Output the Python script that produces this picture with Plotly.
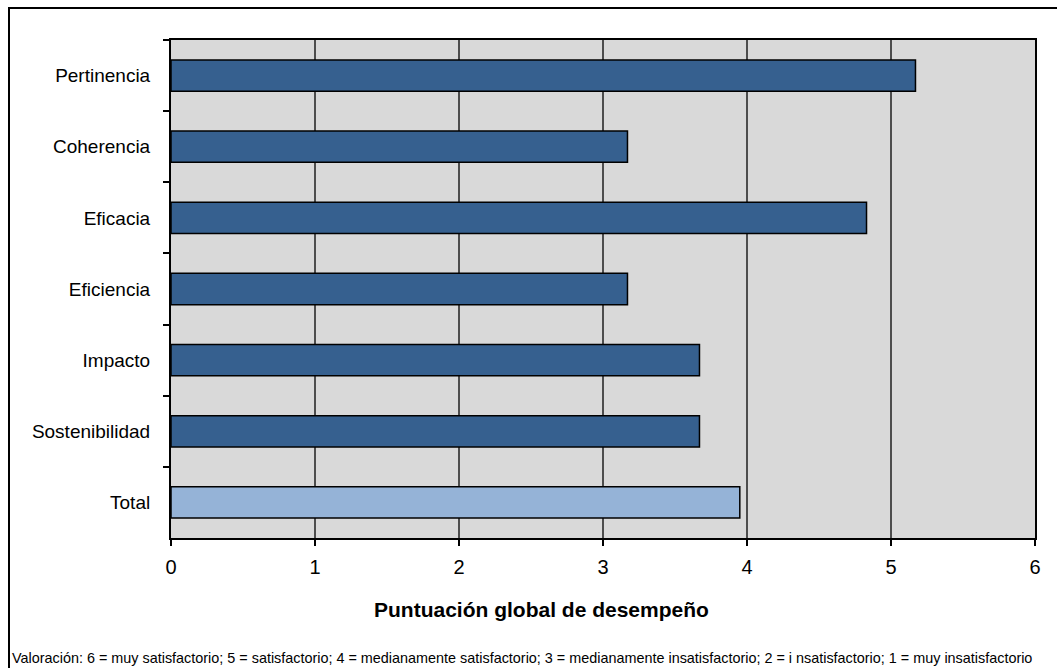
import plotly.graph_objects as go

categories = ["Pertinencia", "Coherencia", "Eficacia", "Eficiencia", "Impacto", "Sostenibilidad", "Total"]
values = [5.17, 3.17, 4.83, 3.17, 3.67, 3.67, 3.95]
bar_colors = ["#36608F", "#36608F", "#36608F", "#36608F", "#36608F", "#36608F", "#95B3D7"]
x_ticks = [0, 1, 2, 3, 4, 5, 6]
x_title = "Puntuación global de desempeño"
footer = ("Valoración: 6 = muy satisfactorio; 5 = satisfactorio; 4 = medianamente satisfactorio; "
          "3 = medianamente insatisfactorio; 2 = i nsatisfactorio; 1 = muy insatisfactorio")

FONT = "Liberation Sans Narrow, Arial Narrow, Liberation Sans, Arial, sans-serif"

fig = go.Figure(go.Bar(
    y=categories, x=values, orientation="h",
    marker=dict(color=bar_colors, line=dict(color="#000000", width=1.5)),
    width=0.44,
))

W, H = 1057, 668
L, R, T, B = 171, 22, 40, 130
pw, ph = W - L - R, H - T - B

def px(x):
    return (x - L) / pw

def py(y):
    return (H - B - y) / ph

fig.update_layout(
    width=W, height=H,
    margin=dict(l=L, r=R, t=T, b=B, pad=0),
    paper_bgcolor="white", plot_bgcolor="#D9D9D9",
    font=dict(family=FONT, color="#000000"),
    showlegend=False,
    xaxis=dict(
        range=[0, 6], tickvals=x_ticks, ticktext=[str(v) for v in x_ticks],
        showgrid=True, gridcolor="#4D4D4D", gridwidth=1.5,
        showline=True, linecolor="#000000", linewidth=2, mirror=True,
        ticks="outside", ticklen=6, tickcolor="#000000", tickwidth=1.5,
        tickfont=dict(size=20, family=FONT), zeroline=False,
        ticklabelstandoff=4,
        fixedrange=True,
    ),
    yaxis=dict(
        autorange="reversed", type="category",
        showline=True, linecolor="#000000", linewidth=2, mirror=True,
        ticks="outside", ticklen=6, tickcolor="#000000", tickwidth=1.5,
        tickson="boundaries", showgrid=False,
        tickfont=dict(size=19, family=FONT), ticklabelstandoff=15,
        fixedrange=True,
    ),
    shapes=[dict(
        type="rect", xref="paper", yref="paper",
        x0=px(9), x1=px(1065), y0=py(700), y1=py(8),
        line=dict(color="#000000", width=2), fillcolor="rgba(0,0,0,0)", layer="below",
    )],
    annotations=[
        dict(text="<b>" + x_title + "</b>", xref="paper", yref="paper",
             x=px(541), y=py(609), xanchor="center", yanchor="middle",
             showarrow=False, font=dict(size=21, family=FONT)),
        dict(text=footer, xref="paper", yref="paper",
             x=px(10), y=py(658), xanchor="left", yanchor="middle",
             showarrow=False, font=dict(size=14.4, family=FONT)),
    ],
)

fig.write_html("out.html")
